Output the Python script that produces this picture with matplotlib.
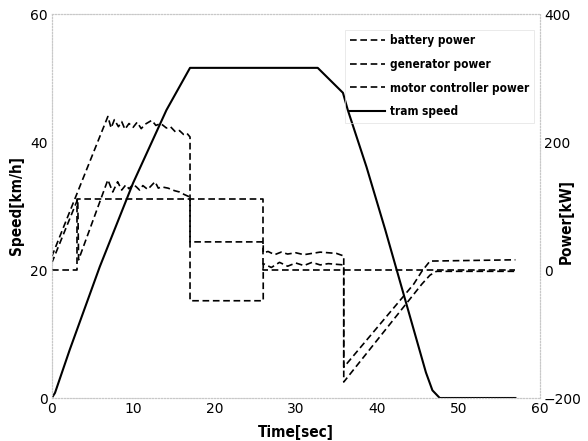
import matplotlib
matplotlib.use("Agg")
import matplotlib.pyplot as plt
from matplotlib.lines import Line2D

# tram speed [km/h]
speed_t = [0, 0.4, 2.2, 5.9, 10.0, 14.1, 17.0, 32.7, 35.8, 36.4, 38.7, 41.0, 46.0, 46.8, 47.7, 57.0]
speed_v = [0, 0.8, 7.5, 20.5, 33.6, 45.0, 51.6, 51.6, 47.7, 45.0, 36.1, 26.3, 4.0, 1.2, 0, 0]

# generator power [kW]
gen_t = [0, 3.1, 3.1, 26.0, 26.0, 57.0]
gen_p = [0, 0, 111, 111, 0, 0]

# motor controller power [kW]
motor_t = [0, 6.9, 7.3, 7.7, 8.2, 8.6, 9.0, 9.5, 10.0, 10.5, 11.0, 11.5, 12.3, 12.8, 13.4,
           14.1, 14.6, 15.2, 15.7, 16.2, 16.6, 17.0, 17.0, 26.0, 26.0, 26.6, 27.4, 28.2, 29.0,
           30.0, 31.0, 32.0, 33.0, 34.0, 35.0, 35.9, 35.9, 44.5, 45.5, 46.5, 57.0]
motor_p = [21, 240, 222, 235, 224, 232, 220, 229, 223, 231, 221, 228, 234, 226, 229,
           222, 224, 216, 218, 212, 214, 208, 44, 44, 27, 29, 24, 28, 25, 27, 24, 26, 28, 27, 26, 22,
           -152, -22, -2, 14, 16]

# battery power [kW]
batt_t = [0, 3.2, 3.3, 6.9, 7.5, 8.1, 8.6, 9.1, 9.5, 10.0, 10.4, 10.8, 11.2, 11.8, 12.7, 13.1,
          13.5, 14.3, 15.1, 15.7, 16.3, 17.0, 17.0, 26.0, 26.0, 27.0, 28.0, 29.0, 30.0, 31.0,
          32.0, 33.0, 34.0, 35.9, 35.9, 45.5, 46.5, 47.3, 57.0]
batt_p = [11, 111, 16, 141, 122, 138, 125, 133, 127, 134, 130, 125, 132, 126, 138, 128,
          130, 128, 124, 122, 118, 114, -48, -48, 10, 4, 12, 6, 11, 7, 12, 8, 10, 8,
          -175, -22, -8, -2, -2]

legend_labels = ["battery power", "generator power", "motor controller power", "tram speed"]

plt.rcParams["font.family"] = ["DejaVu Sans"]

fig = plt.figure(figsize=(5.88, 4.41), dpi=100)
ax = fig.add_axes([0.088, 0.0975, 0.83, 0.8705])
ax2 = ax.twinx()

ax.plot(speed_t, speed_v, color="black", lw=1.5, solid_joinstyle="round")
dash = (4, 2.2)
ax2.plot(batt_t, batt_p, color="black", lw=1.2, dashes=dash)
ax2.plot(gen_t, gen_p, color="black", lw=1.2, dashes=dash)
ax2.plot(motor_t, motor_p, color="black", lw=1.2, dashes=dash)

ax.set_xlim(0, 60)
ax.set_ylim(0, 60)
ax2.set_ylim(-200, 400)
ax.set_xticks(range(0, 61, 10))
ax.set_yticks([0, 20, 40, 60])
ax2.set_yticks([-200, 0, 200, 400])

for a in (ax, ax2):
    a.tick_params(length=0, labelsize=10, pad=3)
    for s in a.spines.values():
        s.set_color("#c8c8c8")
        s.set_linestyle(":")
        s.set_linewidth(0.8)

lab = dict(fontsize=11, fontweight="bold", fontstretch="condensed")
ax.set_xlabel("Time[sec]", labelpad=6, **lab)
ax.set_ylabel("Speed[km/h]", labelpad=4, **lab)
# right label sits closer than matplotlib puts it, so place it by hand
fig.text(566 / 588, 0.497, "Power[kW]", rotation=90, ha="center", va="center", **lab)

handles = [Line2D([0], [0], color="black", lw=1.2, dashes=dash) for _ in range(3)]
handles.append(Line2D([0], [0], color="black", lw=1.5))
leg = ax2.legend(handles, legend_labels, loc="upper right", bbox_to_anchor=(1.0, 0.975),
                 frameon=True, fancybox=False, handlelength=3.0, handletextpad=0.4,
                 labelspacing=0.9, borderpad=0.4,
                 prop={"family": "DejaVu Sans", "weight": "bold", "size": 8.5,
                       "stretch": "condensed"})
leg.get_frame().set_edgecolor("#e0e0e0")
leg.get_frame().set_facecolor("none")
leg.get_frame().set_linewidth(0.6)

fig.savefig("out.png", dpi=100)
